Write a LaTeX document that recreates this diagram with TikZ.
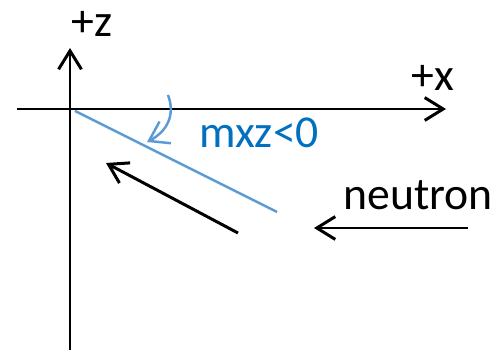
\documentclass[tikz,border=0pt]{standalone}
\usepackage{fontspec}
\setmainfont{Carlito}
\definecolor{MXlineblue}{HTML}{5B9BD5}
\definecolor{MXtextblue}{HTML}{0070C0}
\usetikzlibrary{arrows.meta, positioning}

\begin{document}
\begin{tikzpicture}[x=0.02cm, y=-0.02cm,
      axis/.style={line width=1.7pt, -{Straight Barb[length=10.5pt, width=13pt]}},
      label/.style={font=\fontsize{26}{30}\selectfont, anchor=base, inner sep=0pt}]
   \useasboundingbox (0,0) rectangle (500,354);
   % Axes
   \coordinate (zlow) at (70,350);
   \coordinate (ztip) at (70,48);
   \coordinate (xlow) at (17,109);
   \coordinate (xtip) at (446,109);
   \draw[axis] (zlow) -- (ztip);
   \draw[axis] (xlow) -- (xtip);
   \node[label] (zlab) at (92,37) {+z};
   \node[label] (xlab) at (433,91) {+x};
   % Tilted sample line (blue)
   \coordinate (lineA) at (75,111);
   \coordinate (lineB) at (277,212);
   \draw[MXlineblue, line width=1.4pt] (lineA) -- (lineB);
   % Curved arrow onto the line
   \coordinate (bendA) at (168,95);
   \coordinate (bendB) at (147,142);
   \draw[MXlineblue, line width=1.4pt, -{Straight Barb[length=10.5pt, width=14pt]}]
      (bendA) .. controls (176,116) and (166,132) .. (bendB);
   \node[label, text=MXtextblue] (mxz) at (259,148) {mxz<0};
   % Reflected direction
   \coordinate (backA) at (238,233);
   \coordinate (backB) at (106,163);
   \draw[axis] (backA) -- (backB);
   % Incoming neutron
   \coordinate (neutA) at (468,228);
   \coordinate (neutB) at (314,228);
   \draw[axis] (neutA) -- (neutB);
   \node[label] (neut) at (418,210) {neutron};
\end{tikzpicture}
\end{document}
